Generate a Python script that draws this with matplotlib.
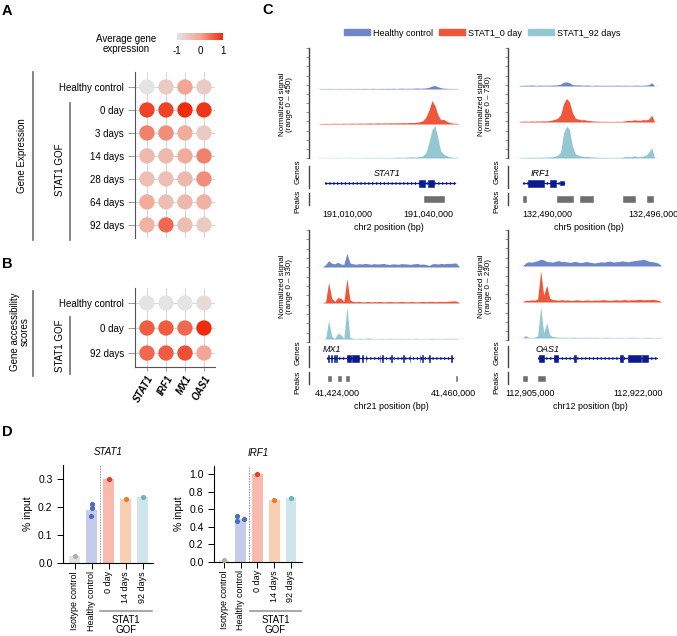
import numpy as np
import matplotlib
matplotlib.use('Agg')
import matplotlib.pyplot as plt
from matplotlib.colors import LinearSegmentedColormap, Normalize
from matplotlib.patches import Patch, Rectangle
from matplotlib.lines import Line2D
from matplotlib.cm import ScalarMappable

plt.rcParams['font.family'] = ['Liberation Sans', 'DejaVu Sans']

# ---------------- data ----------------
genes = ['STAT1', 'IRF1', 'MX1', 'OAS1']

# panel A: average gene expression (scaled -1..1)
expr_rows = ['Healthy control', '0 day', '3 days', '14 days', '28 days', '64 days', '92 days']
expr_vals = [[-1.0, -0.6, 0.0, -0.6],
             [0.8, 0.8, 1.0, 0.9],
             [0.3, 0.2, -0.1, -0.6],
             [-0.3, -0.3, -0.1, 0.3],
             [-0.4, -0.4, -0.3, 0.2],
             [-0.1, -0.4, -0.3, -0.2],
             [-0.2, 0.5, -0.4, -0.6]]

# panel B: gene accessibility scores
acc_rows = ['Healthy control', '0 day', '92 days']
acc_vals = [[-1.0, -1.0, -1.0, -0.85],
            [0.6, 0.6, 0.5, 1.0],
            [0.5, 0.6, 0.7, 0.0]]

# panel C: genome tracks
track_names = ['Healthy control', 'STAT1_0 day', 'STAT1_92 days']
track_colors = ['#6f87c9', '#f0573a', '#93c7d2']
chroms = ['chr2', 'chr5', 'chr21', 'chr12']
region_start = [190999260, 132488360, 41418100, 112903110]
region_end = [191051855, 132496340, 41463410, 112925930]
signal_range = [450, 730, 330, 230]
xticks_bp = [[191010000, 191040000], [132490000, 132496000],
             [41424000, 41460000], [112905000, 112922000]]

stat1_healthy = [4, 5, 4, 6, 5, 4, 5, 6, 4, 5, 6, 5, 4, 6, 5, 7, 6, 5, 8, 6, 5, 7, 6, 8,
                 7, 9, 6, 8, 10, 7, 9, 8, 10, 12, 9, 11, 14, 22, 38, 45, 30, 16, 10, 8, 6, 5, 4, 3]
stat1_0day = [5, 6, 8, 6, 7, 9, 8, 6, 10, 8, 9, 11, 8, 10, 12, 9, 11, 13, 10, 12, 14, 11, 13, 12,
              15, 13, 16, 14, 18, 15, 17, 20, 18, 24, 30, 45, 90, 180, 300, 240, 120, 55, 60, 35, 18, 12, 8, 6]
stat1_92day = [2, 3, 2, 3, 2, 3, 4, 3, 2, 3, 4, 3, 3, 4, 3, 4, 5, 4, 3, 5, 4, 6, 5, 4,
               6, 5, 8, 10, 7, 9, 12, 15, 10, 14, 18, 30, 70, 200, 360, 420, 260, 90, 50, 30, 15, 8, 5, 3]

irf1_healthy = [10, 12, 15, 14, 20, 16, 12, 18, 14, 16, 15, 18, 20, 25, 40, 80, 85, 70, 30, 20, 25, 18, 15, 20,
                14, 12, 16, 14, 12, 15, 13, 14, 12, 16, 14, 12, 15, 13, 12, 14, 16, 12, 14, 18, 25, 70, 0, 0]
irf1_0day = [12, 15, 18, 14, 20, 16, 22, 18, 25, 20, 28, 40, 55, 80, 150, 380, 490, 420, 200, 80, 60, 45, 50, 35,
             30, 20, 18, 15, 12, 14, 12, 10, 12, 15, 12, 14, 25, 35, 30, 45, 40, 35, 50, 45, 60, 140, 0, 0]
irf1_92day = [8, 10, 12, 10, 14, 12, 15, 14, 18, 16, 20, 25, 35, 60, 120, 520, 665, 600, 250, 90, 60, 40, 35, 30,
              25, 20, 15, 12, 10, 12, 10, 8, 10, 12, 10, 14, 30, 35, 25, 45, 30, 25, 40, 55, 120, 215, 0, 0]

mx1_healthy = [0, 0, 22, 60, 35, 30, 45, 28, 25, 130, 38, 30, 26, 32, 28, 35, 30, 26, 32, 28, 30, 34, 27, 24,
               30, 28, 26, 32, 30, 28, 25, 30, 34, 26, 28, 24, 14, 30, 32, 28, 34, 30, 35, 32, 38, 36, 0, 0]
mx1_0day = [0, 0, 12, 195, 45, 15, 50, 45, 12, 230, 30, 14, 12, 15, 10, 12, 14, 11, 13, 12, 15, 10, 12, 14,
            12, 10, 13, 15, 12, 11, 14, 12, 10, 13, 15, 12, 14, 16, 12, 14, 15, 13, 16, 18, 20, 18, 0, 0]
mx1_92day = [0, 0, 6, 175, 25, 5, 55, 40, 6, 300, 15, 5, 4, 6, 5, 4, 10, 5, 4, 3, 5, 4, 3, 5,
             4, 3, 4, 5, 3, 4, 3, 4, 5, 3, 4, 3, 4, 5, 3, 4, 3, 5, 4, 6, 5, 4, 0, 0]

oas1_healthy = [0, 0, 20, 28, 25, 30, 35, 45, 40, 30, 28, 25, 32, 35, 28, 30, 26, 24, 30, 28, 22, 25, 30, 26,
                22, 20, 24, 28, 25, 30, 32, 26, 28, 30, 34, 30, 28, 32, 35, 38, 40, 45, 38, 30, 28, 25, 18, 0]
oas1_0day = [0, 0, 12, 10, 14, 12, 20, 205, 45, 110, 25, 16, 14, 12, 15, 12, 14, 10, 12, 15, 12, 10, 14, 12,
             10, 13, 12, 14, 15, 12, 11, 13, 15, 12, 14, 16, 12, 15, 14, 16, 18, 14, 16, 15, 18, 14, 12, 0]
oas1_92day = [0, 0, 18, 4, 3, 5, 15, 205, 35, 100, 20, 10, 6, 5, 4, 5, 3, 4, 5, 3, 4, 3, 4, 5,
              3, 4, 3, 2, 4, 3, 3, 2, 3, 4, 3, 2, 3, 4, 3, 3, 2, 3, 4, 3, 3, 2, 4, 0]

signals = [[stat1_healthy, stat1_0day, stat1_92day],
           [irf1_healthy, irf1_0day, irf1_92day],
           [mx1_healthy, mx1_0day, mx1_92day],
           [oas1_healthy, oas1_0day, oas1_92day]]

gene_span = [(191001850, 191050000), (132488640, 132490960),
             (41420900, 41460000), (112906260, 112924990)]
gene_label_bp = [191024800, 132489600, 41422450, 112907680]
exons = [
    [(191036670, 191038890, 'cds'), (191040120, 191042340, 'cds')],
    [(132488925, 132489830, 'cds'), (132490170, 132490510, 'cds'), (132490735, 132490960, 'utr')],
    [(41421150, 41421450, 'cds'), (41422200, 41422500, 'cds'), (41423010, 41423310, 'cds'),
     (41423750, 41424050, 'cds'), (41427010, 41428250, 'cds'), (41428750, 41430920, 'cds'),
     (41431830, 41432130, 'cds'), (41432850, 41433150, 'cds'), (41437190, 41437490, 'cds'),
     (41438030, 41438330, 'cds'), (41440820, 41441120, 'cds'), (41444420, 41444720, 'cds'),
     (41446500, 41446800, 'cds'), (41449600, 41449900, 'cds'), (41450440, 41450740, 'cds'),
     (41452700, 41453000, 'cds'), (41459440, 41459740, 'cds')],
    [(112906420, 112907200, 'cds'), (112908780, 112909410, 'cds'), (112912000, 112912160, 'cds'),
     (112919160, 112919640, 'cds'), (112920420, 112922460, 'cds'), (112922620, 112923570, 'cds')],
]
peaks = [
    [(191038520, 191045930)],
    [(132488640, 132488810), (132490565, 132491470), (132491870, 132492600),
     (132494300, 132494980), (132495660, 132496000)],
    [(41421200, 41422140), (41424310, 41425240), (41426790, 41427720), (41460900, 41461200)],
    [(112903900, 112904530), (112906260, 112907360)],
]

# panel D: ChIP-qPCR
samples = ['Isotype control', 'Healthy control', '0 day', '14 days', '92 days']
stat1_mean = [0.025, 0.19, 0.30, 0.23, 0.235]
stat1_points = [[0.025], [0.21, 0.195, 0.167], [0.30], [0.23], [0.235]]
stat1_jitter = [[0], [0, 0, -0.05], [0], [0], [0]]
irf1_mean = [0.02, 0.49, 1.0, 0.70, 0.73]
irf1_points = [[0.02], [0.52, 0.46, 0.49], [1.0], [0.70], [0.73]]
irf1_jitter = [[0], [-0.25, -0.25, 0.2], [0], [0], [0]]
bar_colors = ['#e3e3e3', '#c5cce9', '#f9b9ae', '#f8cfb2', '#cfe5ec']
dot_colors = ['#b0b0b0', '#4a6cc4', '#ee3a1c', '#f0772e', '#6ab3c6']

# ---------------- figure ----------------
W, H = 677, 636
fig = plt.figure(figsize=(W / 100, H / 100), dpi=100)


def ax_px(x0, y0, x1, y1):
    return fig.add_axes([x0 / W, 1 - y1 / H, (x1 - x0) / W, (y1 - y0) / H])


def txt(x, y, s, **kw):
    kw.setdefault('ha', 'center')
    kw.setdefault('va', 'center')
    fig.text(x / W, 1 - y / H, s, **kw)


def line_px(xs, ys, **kw):
    fig.add_artist(Line2D([x / W for x in xs], [1 - y / H for y in ys], **kw))


for lab, x, y in [('A', 2, 11), ('B', 2, 264), ('C', 262, 10), ('D', 2, 432)]:
    txt(x, y, lab, fontsize=10.5, fontweight='bold', ha='left')

# ---- A / B dot plots ----
cmap = LinearSegmentedColormap.from_list('expr', ['#e4e4e4', '#f3a694', '#ee2b0c'])
norm = Normalize(-1, 1)


def dotplot(ax, rows, vals):
    for i, row in enumerate(vals):
        ax.scatter(range(len(genes)), [i] * len(genes), c=row, cmap=cmap, norm=norm,
                   s=122, linewidths=0, zorder=3)
    ax.set_yticks(range(len(rows)))
    ax.set_yticklabels(rows, fontsize=7)
    ax.set_xticks(range(len(genes)))
    ax.grid(True, color='#d0d0d0', lw=0.6)
    ax.set_axisbelow(True)
    ax.tick_params(axis='y', length=5, width=0.6, color='#8a8a8a', pad=3)
    for s in ['top', 'right']:
        ax.spines[s].set_visible(False)
    ax.spines['left'].set_color('#555555')
    ax.spines['bottom'].set_color('#555555')


axA = ax_px(135, 72, 215, 238)
dotplot(axA, expr_rows, expr_vals)
axA.set_xlim(-0.63, 3.58)
axA.set_ylim(6.57, -0.65)
axA.spines['bottom'].set_visible(False)
axA.tick_params(axis='x', length=0, labelbottom=False)

axB = ax_px(135, 288, 215, 367)
dotplot(axB, acc_rows, acc_vals)
axB.set_xlim(-0.63, 3.58)
axB.set_ylim(2.56, -0.6)
axB.set_xticklabels(genes, rotation=60, ha='right', va='top', rotation_mode='anchor',
                    fontsize=7, fontweight='bold', style='italic')
axB.tick_params(axis='x', length=3, width=0.6, color='#8a8a8a', pad=2)

# colour bar
cax = ax_px(177, 33, 223, 40)
cb = fig.colorbar(ScalarMappable(norm=norm, cmap=cmap), cax=cax, orientation='horizontal')
cb.outline.set_visible(False)
cb.set_ticks([-1, 0, 1])
cb.set_ticklabels(['-1', '0', '1'])
cb.ax.tick_params(length=0, labelsize=7, pad=4)
txt(126, 44, 'Average gene\nexpression', fontsize=7, linespacing=1.1)

# brackets
bc = '#707070'
line_px([33, 33], [72, 240], color=bc, lw=1.2)
txt(22, 156, 'Gene Expression', rotation=90, fontsize=7)
line_px([70, 70], [103, 240], color=bc, lw=1.2)
txt(60, 170, 'STAT1 GOF', rotation=90, fontsize=7)
line_px([33, 33], [291, 376], color=bc, lw=1.2)
txt(20, 332, 'Gene accessibility\nscores', rotation=90, fontsize=7, linespacing=1.0)
line_px([70, 70], [317, 374], color=bc, lw=1.2)
txt(60, 346, 'STAT1 GOF', rotation=90, fontsize=7)

# ---- C genome tracks ----
fig.legend(handles=[Patch(color=c, label=n) for c, n in zip(track_colors, track_names)],
           loc='center', bbox_to_anchor=(482 / W, 1 - 33 / H), ncol=3, frameon=False,
           fontsize=6.5, handlelength=2.9, handleheight=0.6, handletextpad=0.3,
           columnspacing=0.7)

quad_x = [(318, 460, 309), (518, 659, 508), (318, 464, 309), (518, 663, 508)]
baselines = [(89, 124, 158), (86, 122, 158), (267, 303, 339), (266, 302, 338)]
axis_span = [(48, 158), (48, 158), (230, 342), (230, 340)]
row_layout = [
    dict(g_top=160, g_bot=206, gene_y=183, label_y=173, peak_y=199, peak_h=6,
         genes_br=(166, 188), peaks_br=(193, 205), genes_t=172, peaks_t=201, sig_t=104),
    dict(g_top=336, g_bot=385, gene_y=358, label_y=349, peak_y=378, peak_h=5,
         genes_br=(346, 367), peaks_br=(372, 384), genes_t=353, peaks_t=382, sig_t=286),
]
navy = '#0b1b8f'

for q in range(4):
    x0, x1, axx = quad_x[q]
    lay = row_layout[q // 2]
    rs, re_ = region_start[q], region_end[q]
    n = len(signals[q][0])
    edges = np.linspace(rs, re_, n + 1)
    centers = (edges[:-1] + edges[1:]) / 2
    for k in range(3):
        b = baselines[q][k]
        ax = ax_px(x0, b - 35, x1, b)
        ax.fill_between(centers, signals[q][k], 0, color=track_colors[k], lw=0)
        ax.axhline(0, color='#5a5a5a', lw=0.8)
        ax.set_xlim(rs, re_)
        ax.set_ylim(0, signal_range[q])
        ax.axis('off')
    # vertical signal axis
    a0, a1 = axis_span[q]
    vax = ax_px(axx, a0, axx + 1, a1)
    vax.set_ylim(0, 1)
    vax.set_yticks(np.linspace(0, 1, 13))
    vax.set_yticklabels([])
    vax.set_xticks([])
    for s in ['top', 'right', 'bottom']:
        vax.spines[s].set_visible(False)
    vax.spines['left'].set_color('#444444')
    vax.spines['left'].set_linewidth(1.0)
    vax.tick_params(axis='y', length=2, width=0.5, color='#666666')
    vax.patch.set_visible(False)
    txt(axx - 23, lay['sig_t'], 'Normalized signal\n(range 0 \u2013 %d)' % signal_range[q],
        rotation=90, fontsize=5.8, linespacing=1.0)

    # genes + peaks
    gax = ax_px(x0, lay['g_top'], x1, lay['g_bot'])
    gax.set_xlim(rs, re_)
    gax.set_ylim(lay['g_bot'], lay['g_top'])
    gs, ge = gene_span[q]
    gy = lay['gene_y']
    gax.plot([gs, ge], [gy, gy], color=navy, lw=0.9)
    gax.plot([gs, ge], [gy, gy], color=navy, lw=2.0, ls=(0, (0.4, 1.0)))
    for s, e, kind in exons[q]:
        h = 7 if kind == 'cds' else 4.5
        gax.add_patch(Rectangle((s, gy - h / 2), e - s, h, facecolor=navy, edgecolor=navy, lw=0.4))
    gax.text(gene_label_bp[q], lay['label_y'], genes[q], style='italic', ha='center', va='center',
             fontsize=6.5)
    ph = lay['peak_h']
    for s, e in peaks[q]:
        gax.add_patch(Rectangle((s, lay['peak_y'] - ph / 2), e - s, ph, facecolor='#6e6e6e',
                                edgecolor='#6e6e6e', lw=0.4))
    gax.set_xticks(xticks_bp[q])
    gax.set_xticklabels(['{:,}'.format(t) for t in xticks_bp[q]], fontsize=6.5)
    gax.tick_params(axis='x', length=0, pad=3)
    gax.set_yticks([])
    for s in gax.spines.values():
        s.set_visible(False)
    gax.patch.set_visible(False)
    gax.set_xlabel('%s position (bp)' % chroms[q], fontsize=6.5, labelpad=3)

    line_px([axx, axx], lay['genes_br'], color='#444444', lw=1.0)
    line_px([axx, axx], lay['peaks_br'], color='#444444', lw=1.0)
    txt(axx - 11, lay['genes_t'], 'Genes', rotation=90, fontsize=6)
    txt(axx - 11, lay['peaks_t'], 'Peaks', rotation=90, fontsize=6)

# ---- D bar charts ----


def chip_panel(ax, title, means, points, jitter, yticks, ylim, xlim):
    xs = np.arange(len(samples))
    ax.bar(xs, means, width=0.65, color=bar_colors, zorder=1)
    for i in range(len(samples)):
        ax.scatter([i + j for j in jitter[i]], points[i], s=14, color=dot_colors[i],
                   linewidths=0, zorder=3)
    ax.axvline(1.5, color='#8c8c8c', lw=0.6, ls=(0, (2, 1.2)), zorder=0)
    ax.set_xlim(*xlim)
    ax.set_ylim(*ylim)
    ax.set_yticks(yticks)
    ax.set_yticklabels(['%.1f' % t for t in yticks])
    ax.set_xticks(xs)
    ax.set_xticklabels(samples, rotation=90, fontsize=6.5)
    ax.tick_params(axis='y', labelsize=7.5, length=4, width=0.7)
    ax.tick_params(axis='x', length=4, width=0.7, pad=2)
    for s in ['top', 'right']:
        ax.spines[s].set_visible(False)
    for s in ['left', 'bottom']:
        ax.spines[s].set_linewidth(0.8)
    ax.set_title(title, style='italic', fontsize=7, pad=7)
    ax.set_ylabel('% input', fontsize=7.5, labelpad=4)


axS = ax_px(63, 465, 153, 563)
chip_panel(axS, 'STAT1', stat1_mean, stat1_points, stat1_jitter,
           [0, 0.1, 0.2, 0.3], (0, 0.35), (-0.7, 4.6))
axI = ax_px(214, 466, 302, 562)
chip_panel(axI, 'IRF1', irf1_mean, irf1_points, irf1_jitter,
           [0, 0.2, 0.4, 0.6, 0.8, 1.0], (0, 1.09), (-0.6, 4.66))

for a, b in [(100, 152), (250, 301)]:
    line_px([a, b], [611, 611], color='#9a9a9a', lw=1.2)
    txt((a + b) / 2, 625, 'STAT1\nGOF', fontsize=7, linespacing=0.95)

fig.savefig('out.png', dpi=100)
